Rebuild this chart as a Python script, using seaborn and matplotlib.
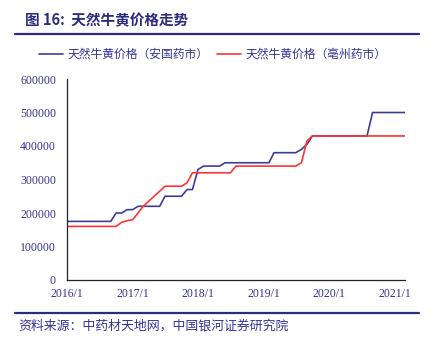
import matplotlib
matplotlib.use("Agg")
import matplotlib.pyplot as plt
import seaborn as sns
import pandas as pd
from matplotlib.lines import Line2D

sns.set_theme(style="white")
plt.rcParams['font.family'] = ['Noto Sans CJK SC', 'DejaVu Sans']

# ---- data ----
months = pd.date_range("2016-01-01", "2021-03-01", freq="MS")
anguo = [175000, 175000, 175000, 175000, 175000, 175000, 175000, 175000, 175000,
         200000, 200000, 210000, 210000,
         220000, 220000, 220000, 220000, 220000,
         250000, 250000, 250000, 250000,
         270000, 270000, 330000,
         340000, 340000, 340000, 340000,
         350000, 350000, 350000, 350000, 350000, 350000, 350000, 350000, 350000,
         380000, 380000, 380000, 380000, 380000,
         390000, 405000,
         430000, 430000, 430000, 430000, 430000, 430000, 430000, 430000, 430000, 430000, 430000,
         500000, 500000, 500000, 500000, 500000, 500000, 500000]
bozhou = [160000, 160000, 160000, 160000, 160000, 160000, 160000, 160000, 160000, 160000,
          172000, 177000, 180000, 200000, 220000, 235000, 250000, 265000,
          280000, 280000, 280000, 280000, 290000,
          320000, 320000, 320000, 320000, 320000, 320000, 320000, 320000,
          340000, 340000, 340000, 340000, 340000, 340000, 340000, 340000, 340000, 340000, 340000, 340000,
          350000, 415000,
          430000, 430000, 430000, 430000, 430000, 430000, 430000, 430000, 430000,
          430000, 430000, 430000, 430000, 430000, 430000, 430000, 430000, 430000]
series_names = ["天然牛黄价格（安国药市）", "天然牛黄价格（亳州药市）"]
colors = ["#3D3D99", "#FF3333"]
tick_years = ["2016", "2017", "2018", "2019", "2020", "2021"]
y_ticks = [0, 100000, 200000, 300000, 400000, 500000, 600000]

df = pd.concat([
    pd.DataFrame({"date": months, "price": anguo, "series": series_names[0]}),
    pd.DataFrame({"date": months, "price": bozhou, "series": series_names[1]}),
])

navy = "#2B2B80"
tick_color = "#333399"

fig = plt.figure(figsize=(4.36, 3.46), dpi=100)
ax = fig.add_axes([67/436, 1-280/346, (405-67)/436, (280-79)/346])

sns.lineplot(data=df, x="date", y="price", hue="series", palette=colors,
             linewidth=1.2, ax=ax, legend=False)

ax.set_xlim(months[0], months[-1])
ax.set_ylim(0, 600000)
ax.set_yticks(y_ticks)
ax.set_yticklabels([str(v) for v in y_ticks], family="Liberation Serif",
                   fontsize=8.5, color=tick_color)
xt = [pd.Timestamp(f"{y}-01-01") for y in tick_years]
ax.set_xticks(xt)
ax.set_xticklabels([f"{y}/1" for y in tick_years], family="Liberation Serif",
                   fontsize=8.5, color=tick_color)
ax.set_xlabel("")
ax.set_ylabel("")
for s in ["top", "right"]:
    ax.spines[s].set_visible(False)
for s in ["left", "bottom"]:
    ax.spines[s].set_color("#222222")
    ax.spines[s].set_linewidth(0.9)
ax.tick_params(axis="both", direction="in", length=3, width=0.8, color="#222222")
ax.tick_params(axis="y", pad=8)
ax.tick_params(axis="x", pad=6)

# legend
handles = [Line2D([0], [0], color=c, lw=1.2) for c in colors]
fig.legend(handles, series_names, loc="center", bbox_to_anchor=(0.488, 1-54.5/346),
           ncol=2, frameon=False, fontsize=8.5, handlelength=2.0, handletextpad=0.35,
           columnspacing=0.8, labelcolor=tick_color)

# title and rules
fig.text(25/436, 1-20/346, "图 16:  天然牛黄价格走势", fontsize=10.5, fontweight="bold",
         color=navy, va="center", ha="left")
fig.add_artist(Line2D([15/436, 419/436], [1-33.5/346, 1-33.5/346], color=navy, lw=1.6))
fig.add_artist(Line2D([15/436, 419/436], [1-312.5/346, 1-312.5/346], color=navy, lw=1.6))
fig.text(18/436, 1-326/346, "资料来源：中药材天地网，中国银河证券研究院", fontsize=9.3,
         style="italic", color=tick_color, va="center", ha="left")

fig.savefig("out.png", dpi=100)
